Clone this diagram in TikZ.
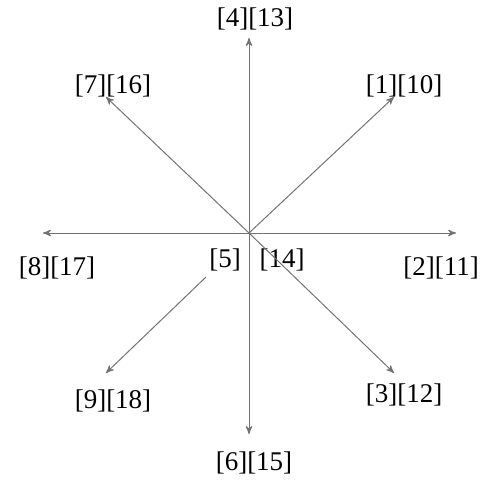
\documentclass[tikz,border=0pt]{standalone}
\usepackage{fontspec}
\setmainfont{Liberation Serif}
\usetikzlibrary{arrows}
\tikzstyle{dirlabel} = [inner sep=0pt, text centered, font=\fontsize{13.5}{16}\selectfont]
\tikzstyle{arrow} = [draw=black!55, line width=0.5pt, ->, >=stealth']

\begin{document}
\begin{tikzpicture}[x=0.5pt, y=-0.5pt]
			\useasboundingbox (0,0) rectangle (501,481);
			
			\coordinate (c) at (249, 233);
			\coordinate (sw0) at (206, 277);
			\coordinate (e1) at (394, 97);
			\coordinate (e2) at (456, 233);
			\coordinate (e3) at (394, 373);
			\coordinate (e4) at (249, 38);
			\coordinate (e6) at (249, 434);
			\coordinate (e7) at (106, 97);
			\coordinate (e8) at (43, 233);
			\coordinate (e9) at (106, 373);
			\node(l1) at (404, 86) [dirlabel] {[1][10]};
			\node(l2) at (441, 268) [dirlabel] {[2][11]};
			\node(l3) at (404, 395) [dirlabel] {[3][12]};
			\node(l4) at (255, 19) [dirlabel] {[4][13]};
			\node(l5) at (225, 260) [dirlabel] {[5]};
			\node(l14) at (282, 260) [dirlabel] {[14]};
			\node(l6) at (254, 463) [dirlabel] {[6][15]};
			\node(l7) at (113, 86) [dirlabel] {[7][16]};
			\node(l8) at (57, 268) [dirlabel] {[8][17]};
			\node(l9) at (113, 401) [dirlabel] {[9][18]};
			\draw [arrow] (c) -- (e1);
			\draw [arrow] (c) -- (e2);
			\draw [arrow] (c) -- (e3);
			\draw [arrow] (c) -- (e4);
			\draw [arrow] (c) -- (e6);
			\draw [arrow] (c) -- (e7);
			\draw [arrow] (c) -- (e8);
			\draw [arrow] (sw0) -- (e9);
		\end{tikzpicture}
\end{document}
